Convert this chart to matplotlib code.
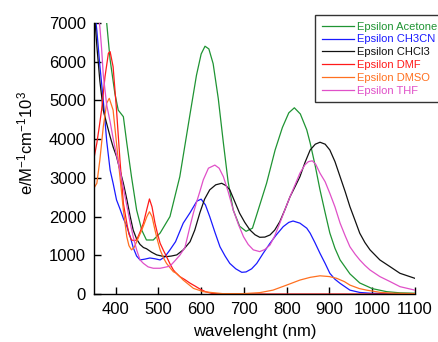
import matplotlib
matplotlib.use("Agg")
import matplotlib.pyplot as plt

plt.rcParams["font.family"] = ["Liberation Sans", "DejaVu Sans"]
plt.rcParams["mathtext.fontset"] = "custom"
plt.rcParams["mathtext.rm"] = "Liberation Sans"
plt.rcParams["mathtext.it"] = "Liberation Sans"
plt.rcParams["mathtext.default"] = "regular"

# Molar absorptivity spectra (wavelength in nm, epsilon values)
wl_acetone = [375, 379, 387, 398, 406, 418, 426, 437, 449, 461, 472, 488, 504, 527,
              550, 574, 589, 600, 609, 618, 628, 640, 652, 663, 675, 690, 705, 720,
              730, 753, 773, 790, 805, 818, 832, 847, 855, 867, 878, 890, 901, 913,
              925, 948, 971, 1000, 1034, 1065, 1100]
eps_acetone = [8000, 7000, 6050, 5190, 4750, 4580, 3900, 3030, 2170, 1650, 1395, 1395,
               1575, 2000, 3030, 4650, 5650, 6200, 6400, 6330, 5950, 5050, 3900, 2900,
               2170, 1750, 1620, 1700, 2050, 2860, 3720, 4300, 4680, 4810, 4650, 4240,
               3900, 3300, 2690, 2100, 1575, 1180, 880, 520, 285, 140, 60, 30, 20]

wl_ch3cn = [350, 356, 363, 371, 379, 387, 394, 402, 410, 418, 426, 434, 441, 449, 457,
            468, 480, 492, 504, 515, 527, 540, 558, 574, 590, 600, 610, 620, 632, 644,
            656, 667, 681, 695, 705, 718, 730, 745, 761, 776, 792, 805, 815, 831, 847,
            855, 866, 878, 890, 901, 913, 925, 948, 971, 995, 1050, 1100]
eps_ch3cn = [7400, 6800, 5900, 5000, 3950, 3200, 2860, 2430, 2200, 1950, 1750, 1480,
             1200, 980, 880, 900, 930, 910, 880, 960, 1140, 1350, 1830, 2100, 2400,
             2450, 2300, 2000, 1600, 1220, 980, 790, 650, 560, 570, 650, 790, 1050,
             1310, 1530, 1740, 1850, 1885, 1830, 1700, 1570, 1330, 1050, 790, 535, 380,
             275, 100, 40, 20, 5, 0]

wl_chcl3 = [350, 356, 363, 371, 379, 387, 394, 402, 410, 418, 426, 434, 441, 449, 457,
            465, 472, 484, 496, 508, 519, 530, 543, 558, 574, 585, 597, 608, 620, 634,
            648, 658, 667, 678, 690, 702, 714, 726, 737, 749, 761, 772, 784, 796, 808,
            820, 831, 843, 855, 867, 878, 890, 901, 913, 925, 937, 948, 960, 971, 983,
            995, 1018, 1042, 1065, 1100]
eps_chcl3 = [7300, 6400, 5500, 4750, 4400, 4065, 3800, 3550, 3200, 2860, 2450, 2000,
             1650, 1420, 1280, 1200, 1170, 1080, 1010, 980, 965, 980, 1010, 1140, 1350,
             1650, 2100, 2450, 2690, 2820, 2860, 2800, 2690, 2400, 2085, 1850, 1655,
             1530, 1465, 1470, 1525, 1650, 1870, 2180, 2515, 2780, 3030, 3400, 3720,
             3870, 3920, 3870, 3720, 3420, 3030, 2640, 2255, 1900, 1570, 1330, 1140,
             880, 705, 535, 405]

wl_dmf = [350, 356, 362, 367, 375, 383, 387, 394, 402, 410, 418, 426, 431, 437, 443,
          449, 457, 465, 472, 479, 485, 492, 498, 504, 512, 519, 527, 535, 543, 550,
          562, 574, 585, 597, 610, 625, 650, 700, 750, 800, 900, 1000, 1100]
eps_dmf = [3550, 3900, 4350, 4750, 5610, 6220, 6260, 5870, 4750, 3460, 2340, 1830,
           1550, 1395, 1380, 1395, 1600, 1830, 2150, 2455, 2250, 1830, 1550, 1310,
           1120, 965, 780, 620, 520, 450, 370, 280, 210, 130, 60, 15, 0, 0, 0, 0,
           0, 0, 0]

wl_dmso = [350, 356, 363, 371, 379, 385, 394, 402, 410, 418, 426, 431, 437, 443, 449,
           455, 461, 467, 473, 479, 485, 492, 498, 504, 512, 519, 527, 535, 543, 558,
           582, 605, 650, 700, 737, 768, 800, 831, 855, 878, 900, 917, 935, 948, 970,
           987, 1020, 1050, 1100]
eps_dmso = [2750, 2860, 3460, 4320, 4930, 5055, 4750, 3890, 3030, 2170, 1480, 1250,
            1140, 1200, 1350, 1500, 1650, 1820, 2000, 2125, 2000, 1650, 1380, 1140,
            930, 790, 680, 575, 530, 360, 145, 60, 10, 10, 35, 100, 230, 360, 430,
            470, 450, 405, 320, 230, 140, 100, 40, 20, 10]

wl_thf = [359, 363, 367, 371, 379, 387, 394, 402, 410, 422, 434, 441, 449, 457, 465,
          476, 488, 496, 504, 515, 527, 538, 550, 562, 574, 582, 590, 597, 605, 617,
          632, 642, 652, 663, 675, 687, 699, 710, 722, 737, 749, 761, 772, 784, 796,
          808, 820, 831, 843, 851, 860, 868, 878, 890, 901, 913, 925, 937, 948, 960,
          971, 983, 995, 1018, 1042, 1065, 1100]
eps_thf = [7300, 6900, 6350, 5660, 4880, 4450, 4020, 3590, 3200, 2515, 1830, 1480,
           1140, 880, 790, 700, 665, 665, 665, 690, 720, 850, 1000, 1200, 1750, 2100,
           2400, 2650, 2950, 3250, 3330, 3250, 3030, 2650, 2170, 1800, 1480, 1280,
           1140, 1095, 1150, 1265, 1500, 1830, 2180, 2515, 2830, 3120, 3340, 3420,
           3440, 3350, 3120, 2900, 2600, 2250, 1830, 1500, 1220, 1030, 880, 740, 620,
           450, 320, 190, 100]

series = [
    ("Epsilon Acetone", wl_acetone, eps_acetone, "#1f9433"),
    ("Epsilon CH3CN", wl_ch3cn, eps_ch3cn, "#1a1aff"),
    ("Epsilon CHCl3", wl_chcl3, eps_chcl3, "#111111"),
    ("Epsilon DMF", wl_dmf, eps_dmf, "#ff1a1a"),
    ("Epsilon DMSO", wl_dmso, eps_dmso, "#ff7020"),
    ("Epsilon THF", wl_thf, eps_thf, "#e050c8"),
]

x_ticks = [400, 500, 600, 700, 800, 900, 1000, 1100]
y_ticks = [0, 1000, 2000, 3000, 4000, 5000, 6000, 7000]

W, H = 438, 342
fig = plt.figure(figsize=(W / 100, H / 100), dpi=100)
ax = fig.add_axes([94.3 / W, 1 - 294 / H, (414.9 - 94.3) / W, (294 - 23) / H])

for name, x, y, c in series:
    ax.plot(x, y, color=c, lw=0.9, label=name)

ax.set_xlim(350, 1100)
ax.set_ylim(0, 7000)
ax.set_xticks(x_ticks)
ax.set_yticks(y_ticks)
for s in ("top", "right"):
    ax.spines[s].set_visible(False)
for s in ("left", "bottom"):
    ax.spines[s].set_linewidth(1.0)
ax.tick_params(direction="in", length=5, width=1.0, labelsize=12, pad=6)

fig.text(254.6 / W, 1 - 331.7 / H, "wavelenght (nm)", fontsize=12,
         ha="center", va="center")
fig.text(25 / W, 1 - 143 / H, r"e/M$^{-1}$cm$^{-1}$10$^{3}$", fontsize=12,
         rotation=90, ha="center", va="center")

leg = fig.legend(loc="upper left", bbox_to_anchor=(315 / W, 1 - 15 / H),
                 borderaxespad=0, fontsize=8, frameon=True, fancybox=False,
                 edgecolor="black", labelcolor="linecolor", handlelength=2.9,
                 handletextpad=0.3, labelspacing=0.25, borderpad=0.6)
leg.get_frame().set_linewidth(1.0)

fig.savefig("out.png", dpi=100)
